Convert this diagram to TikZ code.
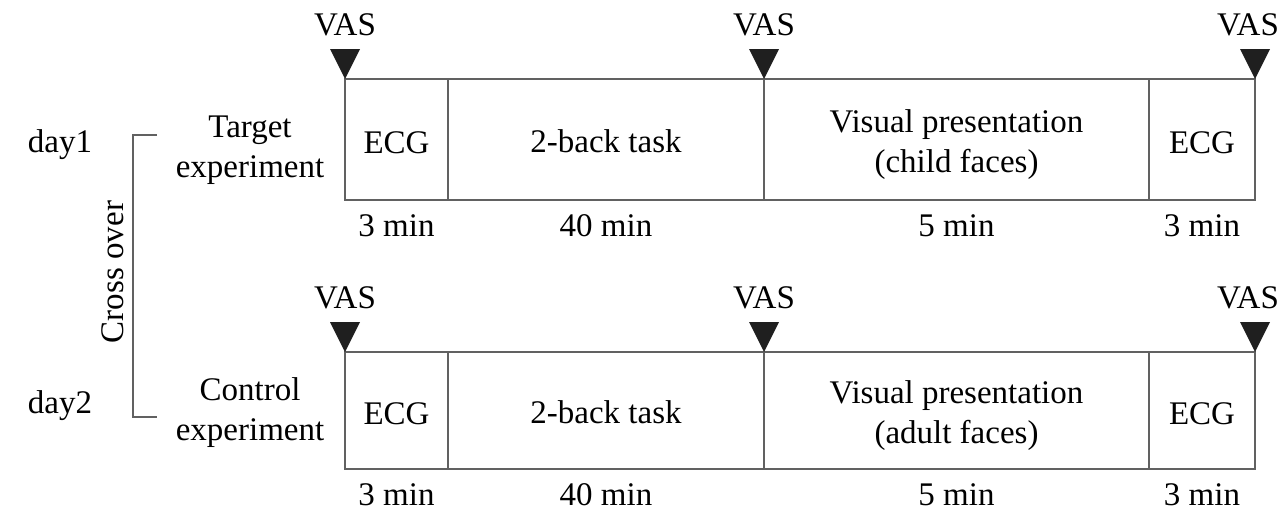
\documentclass[tikz,border=0pt]{standalone}
\usepackage{fontspec}
\setmainfont{Liberation Serif}
\usetikzlibrary{calc}
\begin{document}
\begin{tikzpicture}[x=0.5pt,y=-0.5pt,
  frame/.style={draw=black!62,line width=1pt},
  lbl/.style={font=\fontsize{16.5pt}{20pt}\selectfont,inner sep=0pt,align=center},
  vas/.style={fill=black!88,draw=none}
]
\useasboundingbox (0,0) rectangle (1288,511);

% one timeline row: #1 = top y, #2 = bottom y, #3 = name prefix, #4 = face type
\newcommand{\timeline}[4]{%
  \coordinate (#3a) at (345,#1);
  \coordinate (#3b) at (448,#1);
  \coordinate (#3c) at (764,#1);
  \coordinate (#3d) at (1149,#1);
  \coordinate (#3e) at (1255,#1);
  \coordinate (#3z) at (1255,#2);
  \draw[frame] (#3a) rectangle (#3z);
  \foreach \k in {b,c,d} \draw[frame] (#3\k) -- (#3\k |- #3z);
  \node[lbl,yshift=-1.5pt] (#3n1) at ($(#3a)!0.5!(#3b |- #3z)$) {ECG};
  \node[lbl,yshift=-1pt] (#3n2) at ($(#3b)!0.5!(#3c |- #3z)$) {2-back task};
  \node[lbl,yshift=-2.5pt] (#3n3) at ($(#3c)!0.5!(#3d |- #3z)$)
    {\fontsize{16.5pt}{19.5pt}\selectfont Visual presentation\\(#4 faces)};
  \node[lbl,yshift=-1.5pt] (#3n4) at ($(#3d)!0.5!(#3z)$) {ECG};
  \foreach \n/\t in {1/3 min,2/40 min,3/5 min,4/3 min}
    \node[lbl,anchor=base] at (#3n\n |- 0,#2) [yshift=-18pt] {\t};
  \foreach \k/\dx in {a/0,c/0,e/-7}{
    \fill[vas] (#3\k) -- ++(-15,-30) -- ++(30,0) -- cycle;
    \node[lbl,anchor=base] at ([xshift=\dx*0.5pt,yshift=22pt]#3\k) {VAS};
  }
}

\timeline{79}{200}{r}{child}
\timeline{352}{469}{s}{adult}

% row labels
\node[lbl,anchor=base] (d1) at (60,152) {day1};
\node[lbl,anchor=base] (d2) at (60,413) {day2};
\node[lbl] (tg) at (250,150)
  {\fontsize{16.5pt}{17pt}\selectfont Target\\experiment};
\node[lbl] (ct) at (250,413)
  {\fontsize{16.5pt}{17pt}\selectfont Control\\experiment};

% cross-over bracket
\coordinate (bt) at (157,135);
\coordinate (bb) at (157,417);
\draw[frame] (bt) -- ++(-24,0) coordinate (bl) -- (bl |- bb) -- (bb);
\node[lbl,rotate=90] (co) at (113,272) {Cross over};
\end{tikzpicture}
\end{document}
